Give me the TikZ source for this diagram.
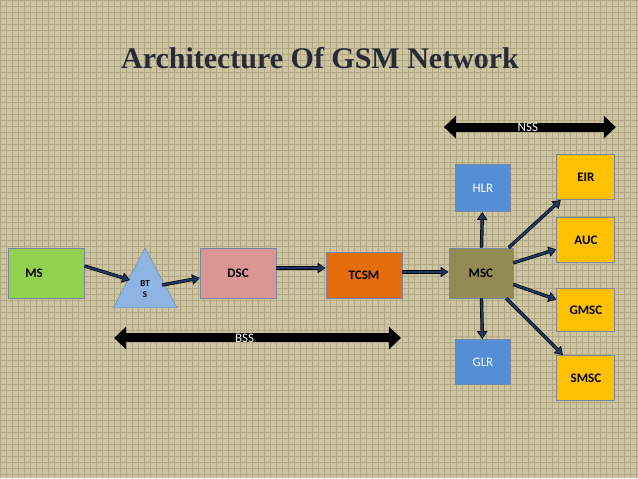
\documentclass[tikz,border=0pt]{standalone}
\usepackage{fontspec}
\setmainfont{Liberation Serif}
\newfontfamily\boxfont{Carlito}
\usetikzlibrary{shapes.geometric,arrows.meta}
\definecolor{bgtan}{RGB}{204,196,162}
\definecolor{gridc}{RGB}{178,168,132}
\definecolor{titlec}{RGB}{40,42,55}
\definecolor{msg}{RGB}{146,208,80}
\definecolor{btsb}{RGB}{141,180,226}
\definecolor{dscp}{RGB}{217,150,148}
\definecolor{tcsmo}{RGB}{228,108,10}
\definecolor{msco}{RGB}{148,138,84}
\definecolor{hlrb}{RGB}{85,142,213}
\definecolor{yel}{RGB}{255,192,0}
\definecolor{arr}{RGB}{31,56,100}
\tikzset{
  box/.style={draw=arr!60, line width=0.8pt, minimum width=#1, inner sep=0pt, font=\boxfont\bfseries\fontsize{13}{15}\selectfont},
  lbl/.style={font=\boxfont\fontsize{13}{15}\selectfont, text=white},
  link/.style={draw=black, line width=3.4pt, -{Triangle[length=8pt,width=10pt]}},
  link2/.style={draw=arr, line width=2pt, -{Triangle[length=6pt,width=7pt]}, shorten >=1.2pt},
  span/.style={line width=9pt, {Triangle[length=12pt,width=22pt]}-{Triangle[length=12pt,width=22pt]}},
}
\begin{document}
\begin{tikzpicture}[x=1pt,y=-1pt]
\fill[bgtan] (0,0) rectangle (638,478);
\foreach \i in {0,6,...,638} \draw[gridc,line width=0.3pt] (\i,0) -- (\i,478);
\foreach \j in {0,6,...,478} \draw[gridc,line width=0.3pt] (0,\j) -- (638,\j);
\useasboundingbox (0,0) rectangle (638,478);

\node[font=\bfseries\fontsize{30}{34}\selectfont, text=titlec] (title) at (320,58) {Architecture Of GSM Network};

\node[box=76pt, minimum height=50pt, fill=msg] (ms) at (46,273) {\hspace*{-24pt}MS};
\node[isosceles triangle, shape border rotate=90, isosceles triangle apex angle=56, draw=arr!60, fill=btsb, minimum height=60pt, inner sep=0pt, anchor=south] (bts) at (145,308) {};
\node[font=\boxfont\bfseries\small, align=center, inner sep=0pt] (btst) at (145,289) {BT\\S};
\node[box=76pt, minimum height=50pt, fill=dscp] (dsc) at (238,273) {DSC};
\node[box=76pt, minimum height=46pt, fill=tcsmo] (tcsm) at (364,275) {TCSM};
\node[box=64pt, minimum height=50pt, fill=msco] (msc) at (481,273) {MSC};
\node[box=55pt, minimum height=47pt, fill=hlrb, lbl] (hlr) at (483,188) {HLR};
\node[box=55pt, minimum height=45pt, fill=hlrb, lbl] (glr) at (483,362) {GLR};
\node[box=58pt, minimum height=45pt, fill=yel] (eir) at (586,177) {EIR};
\node[box=58pt, minimum height=45pt, fill=yel] (auc) at (586,240) {AUC};
\node[box=58pt, minimum height=43pt, fill=yel] (gmsc) at (586,310) {GMSC};
\node[box=58pt, minimum height=45pt, fill=yel] (smsc) at (586,378) {SMSC};

\coordinate (nssl) at (444,127);
\coordinate (nssr) at (616,127);
\draw[span] (nssl) -- (nssr) node[midway, lbl, xshift=-2pt] (nss) {NSS};
\coordinate (bssl) at (114,338);
\coordinate (bssr) at (401,338);
\draw[span] (bssl) -- (bssr) node[midway, lbl, xshift=-13pt] (bss) {BSS};

% horizontal chain
\coordinate (a1) at ([yshift=7pt]ms.east);
\coordinate (b1) at (130,280);
\coordinate (a0) at (162,285);
\coordinate (b0) at (200,278);
\coordinate (a2) at ([yshift=5pt]dsc.east);
\coordinate (a3) at ([yshift=3pt]tcsm.east);
\foreach \s/\t in {a1/b1,a0/b0,a2/a2 -| tcsm.west,a3/a3 -| msc.west}{
  \draw[link] (\s) -- (\t);
  \draw[link2] (\s) -- (\t);
}
\foreach \b in {hlr,glr,eir,auc,gmsc,smsc}{
  \draw[link] (msc) -- (\b);
  \draw[link2] (msc) -- (\b);
}
\end{tikzpicture}
\end{document}
